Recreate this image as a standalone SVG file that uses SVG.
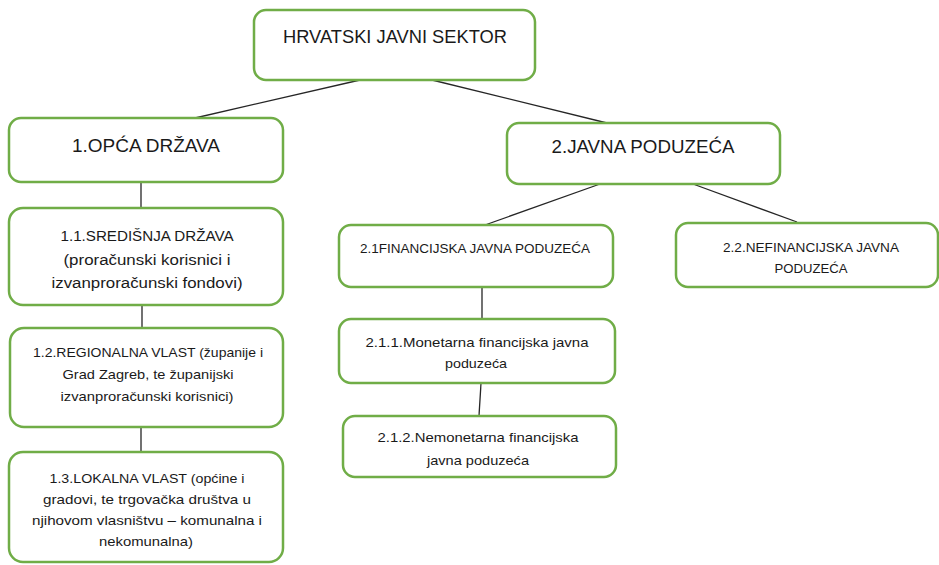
<svg xmlns="http://www.w3.org/2000/svg" width="939" height="565" viewBox="0 0 939 565">
<style>
.box{fill:#fff;stroke:#70AD47;stroke-width:2.5}
.ln{stroke:#262626;stroke-width:1.3;fill:none}
text{font-family:"Liberation Sans",Arial,sans-serif;fill:#1a1a1a;text-anchor:middle}
.t18{font-size:18px}
.t14{font-size:14px}
.t13{font-size:13px}
</style>
<rect width="939" height="565" fill="#fff"/>
<g id="connectors">
<line class="ln" x1="360" y1="80" x2="195" y2="118"/>
<line class="ln" x1="432" y1="80" x2="607" y2="123"/>
<line class="ln" x1="141" y1="182" x2="141" y2="208"/>
<line class="ln" x1="142" y1="305" x2="142" y2="328"/>
<line class="ln" x1="141" y1="427" x2="141" y2="452"/>
<line class="ln" x1="600" y1="184" x2="485" y2="225"/>
<line class="ln" x1="693" y1="184" x2="797" y2="222"/>
<line class="ln" x1="482" y1="287" x2="482" y2="319"/>
<line class="ln" x1="481" y1="383" x2="479" y2="416"/>
</g>
<g id="root">
<rect class="box" x="254" y="10" width="281" height="70" rx="12"/>
<text class="t18" x="395" y="43" textLength="224" lengthAdjust="spacingAndGlyphs">HRVATSKI JAVNI SEKTOR</text>
</g>
<g id="n1">
<rect class="box" x="9" y="118" width="274" height="64" rx="12"/>
<text class="t18" x="146" y="152" textLength="148" lengthAdjust="spacingAndGlyphs">1.OPĆA DRŽAVA</text>
</g>
<g id="n11">
<rect class="box" x="9" y="208" width="274" height="97" rx="14"/>
<text class="t14" x="147" y="241" textLength="173" lengthAdjust="spacingAndGlyphs">1.1.SREDIŠNJA DRŽAVA</text>
<text class="t14" x="147" y="265" textLength="167" lengthAdjust="spacingAndGlyphs">(proračunski korisnici i</text>
<text class="t14" x="147" y="288" textLength="191" lengthAdjust="spacingAndGlyphs">izvanproračunski fondovi)</text>
</g>
<g id="n12">
<rect class="box" x="10" y="328" width="273" height="99" rx="14"/>
<text class="t13" x="148" y="357" textLength="230" lengthAdjust="spacingAndGlyphs">1.2.REGIONALNA VLAST (županije i</text>
<text class="t13" x="148" y="379" textLength="171" lengthAdjust="spacingAndGlyphs">Grad Zagreb, te županijski</text>
<text class="t13" x="147" y="401" textLength="173" lengthAdjust="spacingAndGlyphs">izvanproračunski korisnici)</text>
</g>
<g id="n13">
<rect class="box" x="9" y="452" width="274" height="110" rx="14"/>
<text class="t13" x="147" y="483" textLength="195" lengthAdjust="spacingAndGlyphs">1.3.LOKALNA VLAST (općine i</text>
<text class="t13" x="147" y="504" textLength="208" lengthAdjust="spacingAndGlyphs">gradovi, te trgovačka društva u</text>
<text class="t13" x="147" y="525" textLength="230" lengthAdjust="spacingAndGlyphs">njihovom vlasništvu – komunalna i</text>
<text class="t13" x="146" y="546" textLength="94" lengthAdjust="spacingAndGlyphs">nekomunalna)</text>
</g>
<g id="n2">
<rect class="box" x="507" y="123" width="273" height="61" rx="12"/>
<text class="t18" x="643" y="153" textLength="183" lengthAdjust="spacingAndGlyphs">2.JAVNA PODUZEĆA</text>
</g>
<g id="n21">
<rect class="box" x="339" y="225" width="274" height="62" rx="12"/>
<text class="t13" x="475" y="253" textLength="230" lengthAdjust="spacingAndGlyphs">2.1FINANCIJSKA JAVNA PODUZEĆA</text>
</g>
<g id="n211">
<rect class="box" x="339" y="319" width="276" height="64" rx="12"/>
<text class="t13" x="477" y="347" textLength="223" lengthAdjust="spacingAndGlyphs">2.1.1.Monetarna financijska javna</text>
<text class="t13" x="476" y="368" textLength="62" lengthAdjust="spacingAndGlyphs">poduzeća</text>
</g>
<g id="n212">
<rect class="box" x="343" y="416" width="273" height="61" rx="12"/>
<text class="t13" x="478" y="442" textLength="201" lengthAdjust="spacingAndGlyphs">2.1.2.Nemonetarna financijska</text>
<text class="t13" x="478" y="465" textLength="102" lengthAdjust="spacingAndGlyphs">javna poduzeća</text>
</g>
<g id="n22">
<rect class="box" x="676" y="223" width="262" height="64" rx="12"/>
<text class="t13" x="811" y="252" textLength="176" lengthAdjust="spacingAndGlyphs">2.2.NEFINANCIJSKA JAVNA</text>
<text class="t13" x="811" y="273" textLength="73" lengthAdjust="spacingAndGlyphs">PODUZEĆA</text>
</g>
</svg>
